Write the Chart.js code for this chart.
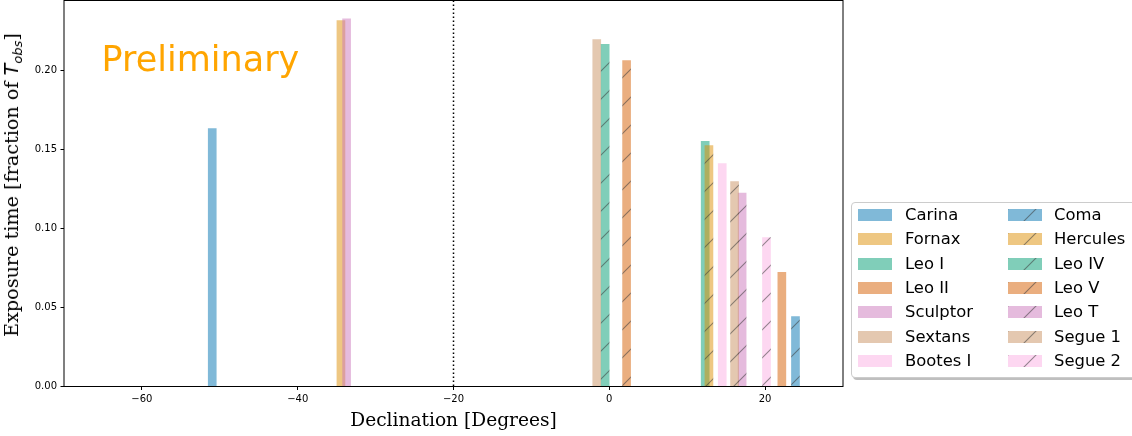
<!DOCTYPE html>
<html><head><meta charset="utf-8">
<script src="https://cdn.jsdelivr.net/npm/chart.js@4.4.0/dist/chart.umd.min.js"></script>
<style>
html,body{margin:0;padding:0;background:#fff;overflow:hidden}
#wrap{position:relative;width:1132px;height:436px;overflow:hidden;background:#fff}
#c{position:absolute;left:0;top:0}
.ov{position:absolute;white-space:nowrap}
#prelim{left:101.6px;top:39px;font:35px/40px "DejaVu Sans";color:#FFA500}
#xtitle{left:453.5px;top:409.5px;transform:translateX(-50%);font:18.6px/20px "DejaVu Serif";color:#000}
#ytitle{left:15px;top:185px;transform:translate(-50%,-50%) rotate(-90deg);font:19.2px/20px "DejaVu Serif";color:#000}
#ytitle i{font-family:"DejaVu Sans";font-style:oblique}
#ytitle sub{font-size:13px;vertical-align:-4px}
#legbox{position:absolute;left:851px;top:201.5px;width:300px;height:174px;border:1px solid #cccccc;border-radius:4px;background:#fff;box-shadow:2px 2px 0 rgba(0,0,0,0.25)}
.lt{position:absolute;font:16.4px/20px "DejaVu Sans";color:#000;white-space:nowrap}
.lp{position:absolute;width:34px;height:12px}
</style></head><body>
<div id="wrap">
<canvas id="c" width="1132" height="436"></canvas>
<div id="prelim" class="ov">Preliminary</div>
<div id="xtitle" class="ov">Declination [Degrees]</div>
<div id="ytitle" class="ov">Exposure time [fraction of <i>T</i><sub><i>obs</i></sub>]</div>
<div id="legbox"></div>
</div>
<script>
// ---- data ----
const galaxies = ['Carina','Fornax','Leo I','Leo II','Sculptor','Sextans','Bootes I',
                  'Coma','Hercules','Leo IV','Leo V','Leo T','Segue 1','Segue 2'];
const declinations = [-50.97,-34.45,12.31,22.15,-33.72,-1.61,14.50,
                      23.90,12.79,-0.53,2.22,17.05,16.08,20.18];
const exposureFractions = [0.1633,0.2316,0.1551,0.0722,0.2327,0.2196,0.1411,
                           0.0443,0.1525,0.2165,0.2063,0.1224,0.1297,0.0943];
const hatchedFlags = [false,false,false,false,false,false,false,
                      true,true,true,true,true,true,true];
const xTickValues = [-60,-40,-20,0,20];
const xTickLabels = ['\u221260','\u221240','\u221220','0','20'];
const yTickValues = [0,0.05,0.10,0.15,0.20];
const yTickLabels = ['0.00','0.05','0.10','0.15','0.20'];
const markerDeclination = -20;

// ---- styles ----
const baseColors = ['rgba(1,115,178,0.5)','rgba(222,143,5,0.5)','rgba(2,158,115,0.5)',
  'rgba(213,94,0,0.5)','rgba(204,120,188,0.5)','rgba(202,145,97,0.5)','rgba(251,175,228,0.5)'];
const colorFor = i => baseColors[i % 7];

function hatchPattern(ctx, color){
  const s = 28;
  const c = document.createElement('canvas'); c.width = s; c.height = s;
  const g = c.getContext('2d');
  g.fillStyle = color; g.fillRect(0,0,s,s);
  g.strokeStyle = 'rgba(60,60,60,0.55)'; g.lineWidth = 1.1;
  g.beginPath();
  g.moveTo(-2, s+2); g.lineTo(s+2, -2);
  g.moveTo(-2, 2); g.lineTo(2, -2);
  g.moveTo(s-2, s+2); g.lineTo(s+2, s-2);
  g.stroke();
  return ctx.createPattern(c, 'repeat');
}

const canvas = document.getElementById('c');
const ctx = canvas.getContext('2d');

const datasets = galaxies.map((name,i)=>({
  label: name,
  data: [{x: declinations[i], y: exposureFractions[i]}],
  backgroundColor: hatchedFlags[i] ? hatchPattern(ctx, colorFor(i)) : colorFor(i),
  borderWidth: 0,
  barThickness: 8,
  grouped: false,
  order: galaxies.length - i
}));

const framePlugin = {
  id: 'frame',
  afterDatasetsDraw(chart){
    const {ctx, chartArea:a, scales:{x}} = chart;
    ctx.save();
    const px = x.getPixelForValue(markerDeclination);
    ctx.strokeStyle = '#000'; ctx.lineWidth = 1.5; ctx.setLineDash([1.5,2.5]);
    ctx.beginPath(); ctx.moveTo(px, a.top); ctx.lineTo(px, a.bottom); ctx.stroke();
    ctx.setLineDash([]);
    ctx.lineWidth = 1; ctx.strokeStyle = '#000';
    ctx.strokeRect(a.left, a.top, a.right - a.left, a.bottom - a.top);
    ctx.restore();
  }
};

const zeroPad = s => { s.paddingTop = 0; s.paddingBottom = 0; s.paddingLeft = 0; s.paddingRight = 0; };

new Chart(canvas, {
  type: 'bar',
  data: { datasets },
  options: {
    responsive: false,
    animation: false,
    devicePixelRatio: 1,
    layout: { padding: { left: 0, right: 289, top: 0.5, bottom: 0 } },
    plugins: { legend: { display: false }, tooltip: { enabled: false } },
    scales: {
      x: {
        type: 'linear', min: -70, max: 30, offset: false,
        afterBuildTicks: s => { s.ticks = xTickValues.map(v => ({value: v})); },
        afterFit: s => { s.height = 49.5; zeroPad(s); },
        ticks: { callback: (v) => xTickLabels[xTickValues.indexOf(v)],
                 font: {family: 'DejaVu Sans', size: 10}, color: '#000',
                 padding: 3, maxRotation: 0, autoSkip: false },
        grid: { display: true, drawOnChartArea: false, drawTicks: true, tickLength: 3.5,
                color: '#000', lineWidth: 1, offset: false },
        border: { display: false }
      },
      y: {
        type: 'linear', min: 0, max: 0.2443,
        afterBuildTicks: s => { s.ticks = yTickValues.map(v => ({value: v})); },
        afterFit: s => { s.width = 64; zeroPad(s); },
        ticks: { callback: (v) => yTickLabels[yTickValues.findIndex(t => Math.abs(t - v) < 1e-9)],
                 font: {family: 'DejaVu Sans', size: 10}, color: '#000', padding: 3.5 },
        grid: { display: true, drawOnChartArea: false, drawTicks: true, tickLength: 3.5,
                color: '#000', lineWidth: 1 },
        border: { display: false }
      }
    }
  },
  plugins: [framePlugin]
});

// ---- legend (two columns, column-major) ----
const wrap = document.getElementById('wrap');
const rowY0 = 215, rowStep = 24.33;
const cols = [{patch: 858, text: 905}, {patch: 1007.5, text: 1054}];
galaxies.forEach((name, i) => {
  const col = cols[Math.floor(i / 7)], row = i % 7;
  const cy = rowY0 + row * rowStep;
  const p = document.createElement('canvas');
  p.width = 34; p.height = 12; p.className = 'lp';
  p.style.left = col.patch + 'px'; p.style.top = (cy - 6) + 'px';
  const pc = p.getContext('2d');
  pc.fillStyle = hatchedFlags[i] ? hatchPattern(pc, colorFor(i)) : colorFor(i);
  pc.fillRect(0, 0, 34, 12);
  wrap.appendChild(p);
  const t = document.createElement('div');
  t.className = 'lt'; t.textContent = name;
  t.style.left = col.text + 'px'; t.style.top = (cy - 10) + 'px';
  wrap.appendChild(t);
});
</script>
</body></html>
